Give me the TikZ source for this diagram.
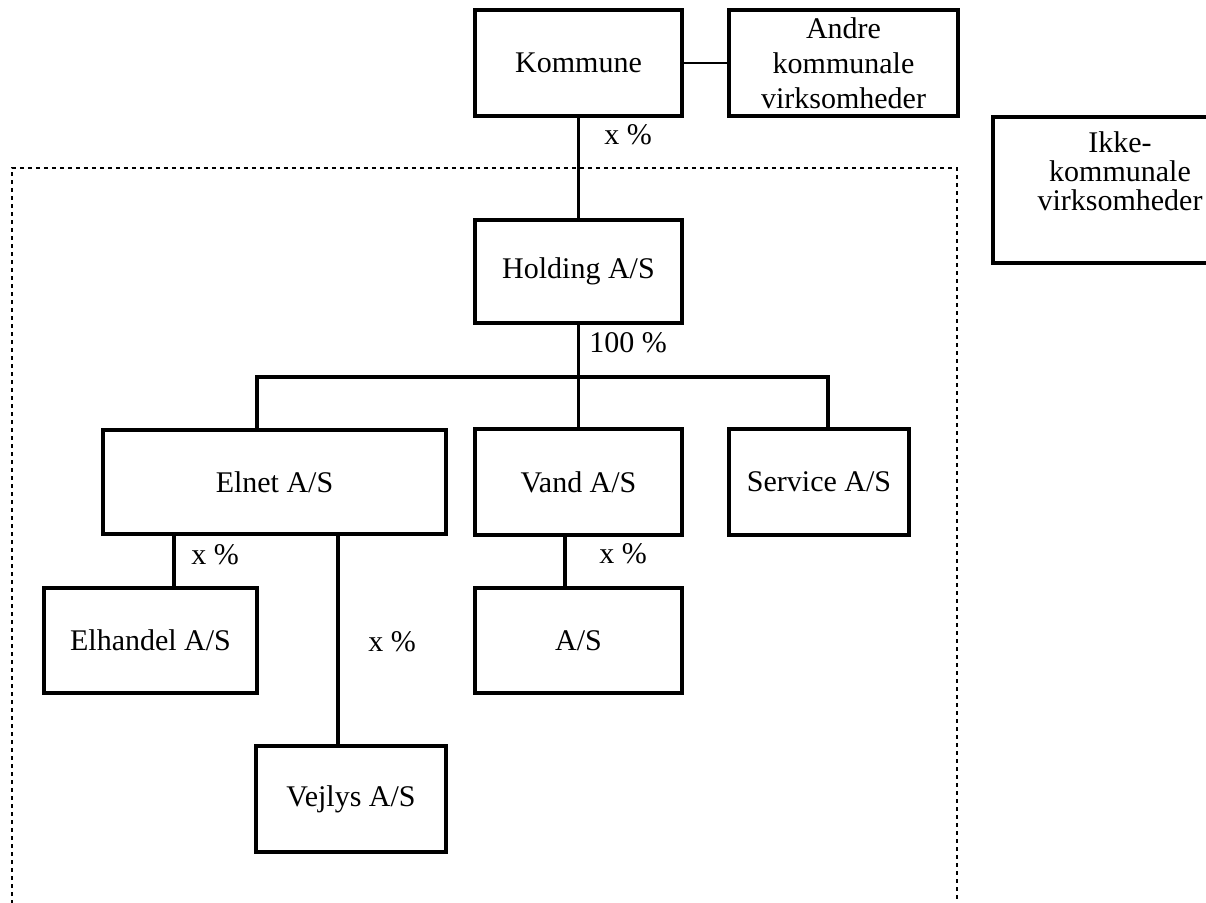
\documentclass[tikz,border=0pt]{standalone}
\usepackage{fontspec}
\setmainfont{Liberation Serif}

\begin{document}
\begin{tikzpicture}[x=0.5pt, y=-0.5pt,
                every node/.style={font=\fontsize{15}{17.5}\selectfont}, % Times-like text
                firm/.style={draw, line width=1.8pt, inner sep=0pt, align=center, minimum height=53pt}, % company box
                owner/.style={line width=1.6pt}, % ownership lines
                share/.style={inner sep=0pt}, % percent labels
                group/.style={line width=1.2pt, dash pattern=on 2.2pt off 1.8pt} % group frame
                ]
                \useasboundingbox (0,0) rectangle (1206,902);
                \clip (0,0) rectangle (1206,902);
                % frame round the group
                \draw[group] (12,920) -- (12,168) -- (957,168) -- (957,920);
                % boxes
                \node[firm, minimum width=103.5pt] (kommune) at (578.5,63) {Kommune};
                \node[firm, minimum width=114.5pt] (andre) at (843.5,63) {Andre\\kommunale\\virksomheder};
                \node[firm, minimum width=127pt, minimum height=73pt] (ikke) at (1120,190) {};
                \node[font=\fontsize{15}{14.5}\selectfont, align=center, inner sep=0pt] (ikketext) at (1120,171) {Ikke-\\kommunale\\virksomheder};
                \node[firm, minimum width=103.5pt, minimum height=51.5pt] (holding) at (578.5,271.5) {Holding A/S};
                \node[firm, minimum width=171.5pt, minimum height=52pt] (elnet) at (274.5,482) {Elnet A/S};
                \node[firm, minimum width=103.5pt, minimum height=53pt] (vand) at (578.5,482) {Vand A/S};
                \node[firm, minimum width=90pt, minimum height=53pt] (service) at (819,482) {Service A/S};
                \node[firm, minimum width=106.5pt, minimum height=52.5pt] (elhandel) at (150.5,640.5) {Elhandel A/S};
                \node[firm, minimum width=103.5pt, minimum height=52.5pt] (as) at (578.5,640.5) {A/S};
                \node[firm, minimum width=95pt, minimum height=53pt] (vejlys) at (351,799) {Vejlys A/S};
                % ownership lines
                \draw[line width=1.2pt] (kommune.east) -- (andre.west);
                \draw[owner] (kommune.south) -- (holding.north);
                \draw[owner] (holding.south) -- (vand.north);
                \coordinate (bar) at (578.5,377);
                \draw[owner] ([xshift=-8.75pt]elnet.north) |- (bar) -| ([xshift=4.5pt]service.north);
                \draw[owner] ([xshift=11.75pt]elhandel.north) -- ([xshift=11.75pt]elhandel.north |- elnet.south);
                \draw[owner] ([xshift=-6.5pt]vejlys.north) -- ([xshift=-6.5pt]vejlys.north |- elnet.south);
                \draw[owner] ([xshift=-6.75pt]as.north) -- ([xshift=-6.75pt]as.north |- vand.south);
                % shares
                \node[share] (kshare) at (628,135) {x \%};
                \node[share] (hshare) at (628,343) {100 \%};
                \node[share] (eshare) at (215,555) {x \%};
                \node[share] (vjshare) at (392,642) {x \%};
                \node[share] (vshare) at (623,554) {x \%};
            \end{tikzpicture}
\end{document}
